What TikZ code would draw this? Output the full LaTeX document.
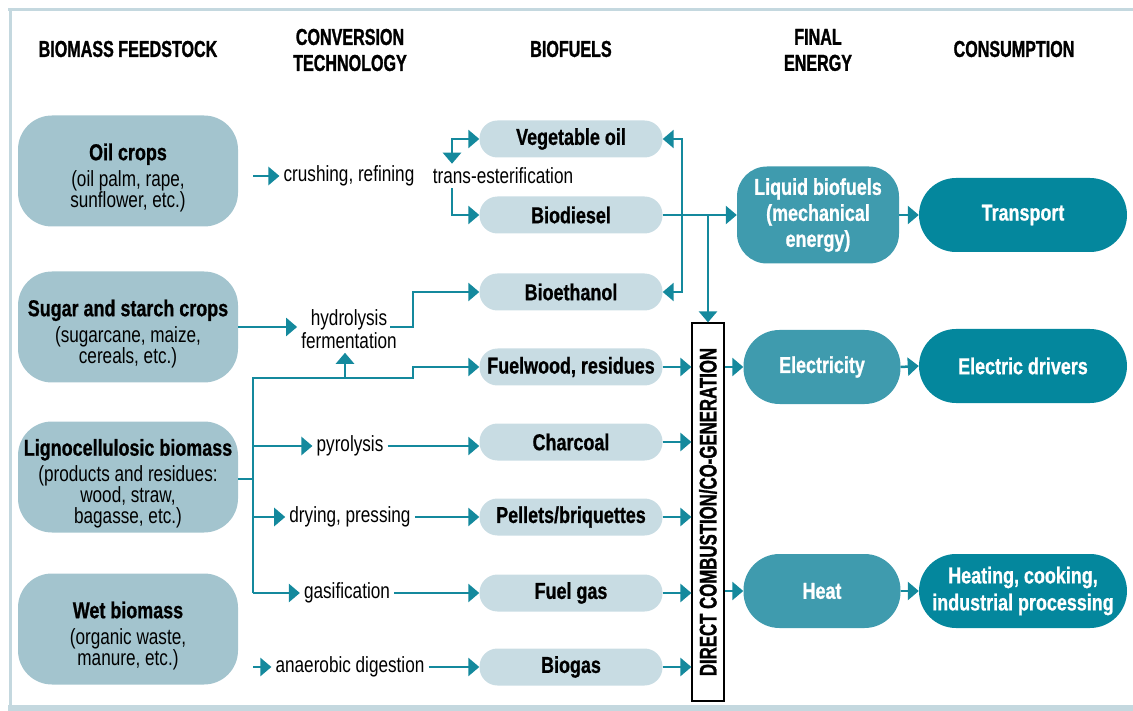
\documentclass[tikz,border=0pt]{standalone}
\usepackage{fontspec}
\setmainfont{Liberation Sans}[FakeStretch=0.78,BoldFeatures={FakeBold=0.8}]
\newfontfamily\hdfont{Liberation Sans}[FakeStretch=0.7,BoldFeatures={FakeBold=1.2}]
\usetikzlibrary{arrows.meta,calc}
\definecolor{framec}{HTML}{C4D8DF}
\definecolor{feedc}{HTML}{A3C4CE}
\definecolor{fuelc}{HTML}{C8DCE3}
\definecolor{fec}{HTML}{3F9BAE}
\definecolor{consc}{HTML}{04879D}
\definecolor{linec}{HTML}{14899D}
\begin{document}
\begin{tikzpicture}[x=1pt,y=-1pt,
  conn/.style={draw=linec, line width=2.5pt},
  arr/.style={conn, -{Triangle[length=11pt,width=18pt]}},
  darr/.style={conn, {Triangle[length=11pt,width=18pt]}-{Triangle[length=11pt,width=18pt]}},
  hdr/.style={font=\hdfont\fontsize{23}{26}\selectfont\bfseries, align=center, inner sep=0pt},
  feed/.style={fill=feedc, rounded corners=34pt, minimum width=220pt, minimum height=111pt, align=center, inner sep=0pt, font=\fontsize{22}{21}\selectfont},
  tech/.style={font=\fontsize{22}{23}\selectfont, align=center, inner sep=4pt},
  fuel/.style={fill=fuelc, rounded corners=18pt, minimum width=183pt, minimum height=37pt, inner sep=0pt, font=\fontsize{23}{24}\selectfont\bfseries},
  fe/.style={fill=fec, text=white, rounded corners=30pt, align=center, inner sep=0pt, font=\fontsize{23}{26}\selectfont\bfseries},
  cons/.style={fill=consc, text=white, rounded corners=37pt, minimum width=208pt, minimum height=74pt, align=center, inner sep=0pt, font=\fontsize{23}{27}\selectfont\bfseries}
]
\useasboundingbox (0,0) rectangle (1133,711);
% frame
\fill[framec] (8,8.5) rectangle (1133,11.5);
\fill[framec] (8.5,8.5) rectangle (11.5,705);
\fill[framec] (8,705) rectangle (1133,711);

% headers
\node[hdr] (h1) at (128,49) {BIOMASS FEEDSTOCK};
\node[hdr] (h2) at (350,50) {CONVERSION\\TECHNOLOGY};
\node[hdr] (h3) at (571,49) {BIOFUELS};
\node[hdr] (h4) at (818,50) {FINAL\\ENERGY};
\node[hdr] (h5) at (1014,49) {CONSUMPTION};

% feedstock
\node[feed] (oil) at (128,171) {\rule{0pt}{30pt}{\fontsize{23}{21}\selectfont\bfseries Oil crops}\\[5pt](oil palm, rape,\\sunflower, etc.)};
\node[feed] (sugar) at (128,327) {\rule{0pt}{30pt}{\fontsize{23}{21}\selectfont\bfseries Sugar and starch crops}\\[5pt](sugarcane, maize,\\cereals, etc.)};
\node[feed] (ligno) at (128,477) {\rule{0pt}{30pt}{\fontsize{23}{21}\selectfont\bfseries Lignocellulosic biomass}\\[5pt](products and residues:\\wood, straw,\\bagasse, etc.)};
\node[feed] (wet) at (128,629) {\rule{0pt}{30pt}{\fontsize{23}{21}\selectfont\bfseries Wet biomass}\\[5pt](organic waste,\\manure, etc.)};

% technologies
\node[tech] (crush) at (349,176) {crushing, refining};
\node[tech] (trans) at (503,176) {trans-esterification};
\node[tech] (hydro) at (349,329) {hydrolysis\\fermentation};
\node[tech] (pyro) at (350,446) {pyrolysis};
\node[tech] (dry) at (350,517) {drying, pressing};
\node[tech] (gas) at (347,593) {gasification};
\node[tech] (anae) at (350,667) {anaerobic digestion};

% biofuels
\node[fuel] (veg) at (571,139) {Vegetable oil};
\node[fuel] (biod) at (571,215) {Biodiesel};
\node[fuel] (bioe) at (571,292) {Bioethanol};
\node[fuel] (fuelw) at (571,367) {Fuelwood, residues};
\node[fuel] (charc) at (571,442) {Charcoal};
\node[fuel] (pell) at (571,517) {Pellets/briquettes};
\node[fuel] (fgas) at (571,593) {Fuel gas};
\node[fuel] (biog) at (571,667) {Biogas};

% direct combustion
\node[draw=black, line width=1.2pt, fill=white, minimum width=32pt, minimum height=378pt, inner sep=0pt] (dc) at (708,512) {};
\node[rotate=90, font=\hdfont\fontsize{24}{24}\selectfont\bfseries, inner sep=0pt] (dct) at (dc.center) {DIRECT COMBUSTION/CO-GENERATION};

% final energy
\node[fe, minimum width=162pt, minimum height=97pt] (liq) at (818,215) {Liquid biofuels\\(mechanical\\energy)};
\node[fe, rounded corners=36pt, minimum width=157pt, minimum height=74pt] (elec) at (822,367) {Electricity};
\node[fe, rounded corners=36pt, minimum width=157pt, minimum height=74pt] (heat) at (822,591) {Heat};

% consumption
\node[cons] (trp) at (1023,215) {Transport};
\node[cons] (edr) at (1023,366) {Electric drivers};
\node[cons] (hcp) at (1023,591) {Heating, cooking,\\industrial processing};

% coordinates
\coordinate (oilA) at (253,176);
\coordinate (tj) at (452,176);
\coordinate (vv) at (682,215);
\coordinate (dv) at (708,215);
\coordinate (hyout) at (390,327);
\coordinate (lv) at (253,479);
\coordinate (ltop) at (253,378);
\coordinate (lbot) at (253,593);
\coordinate (hup) at (345,378);
\coordinate (wa) at (253,667);

% connectors
\draw[arr] (oilA) -- (crush.west);
\draw[darr] (tj |- trans.north) |- (veg.west);
\draw[arr] (tj |- trans.south) |- (biod.west);
\draw[arr] (biod.east) -- (liq.west);
\draw[arr] (dv) -- (dv |- dc.north);
\draw[darr] (veg.east) -| (vv) |- (bioe.east);

\draw[arr] (sugar.east) -- (hydro.west |- sugar.east);
\draw[arr] (hyout) -- ++(23,0) |- (bioe.west);

\draw[conn] (ligno.east |- lv) -- (lv);
\draw[arr] (lbot) -- (ltop) -- ++(160,0) |- (fuelw.west);
\draw[arr] (hup) -- (hydro.south -| hup);
\draw[arr] (ltop |- pyro) -- (pyro.west);
\draw[arr] (pyro.east) -- (charc.west |- pyro);
\draw[arr] (ltop |- dry) -- (dry.west);
\draw[arr] (dry.east) -- (pell.west);
\draw[arr] (lbot) -- (gas.west);
\draw[arr] (gas.east) -- (fgas.west);
\draw[arr] (wa) -- (anae.west);
\draw[arr] (anae.east) -- (biog.west);

\foreach \n in {fuelw,charc,pell,fgas,biog}{
  \draw[arr] (\n.east) -- (\n.east -| dc.west);
}
\draw[arr] (dc.east |- elec.west) -- (elec.west);
\draw[arr] (dc.east |- heat.west) -- (heat.west);
\draw[arr] (liq.east) -- (trp.west);
\draw[arr] (elec.east) -- (edr.west);
\draw[arr] (heat.east) -- (hcp.west);
\end{tikzpicture}
\end{document}
